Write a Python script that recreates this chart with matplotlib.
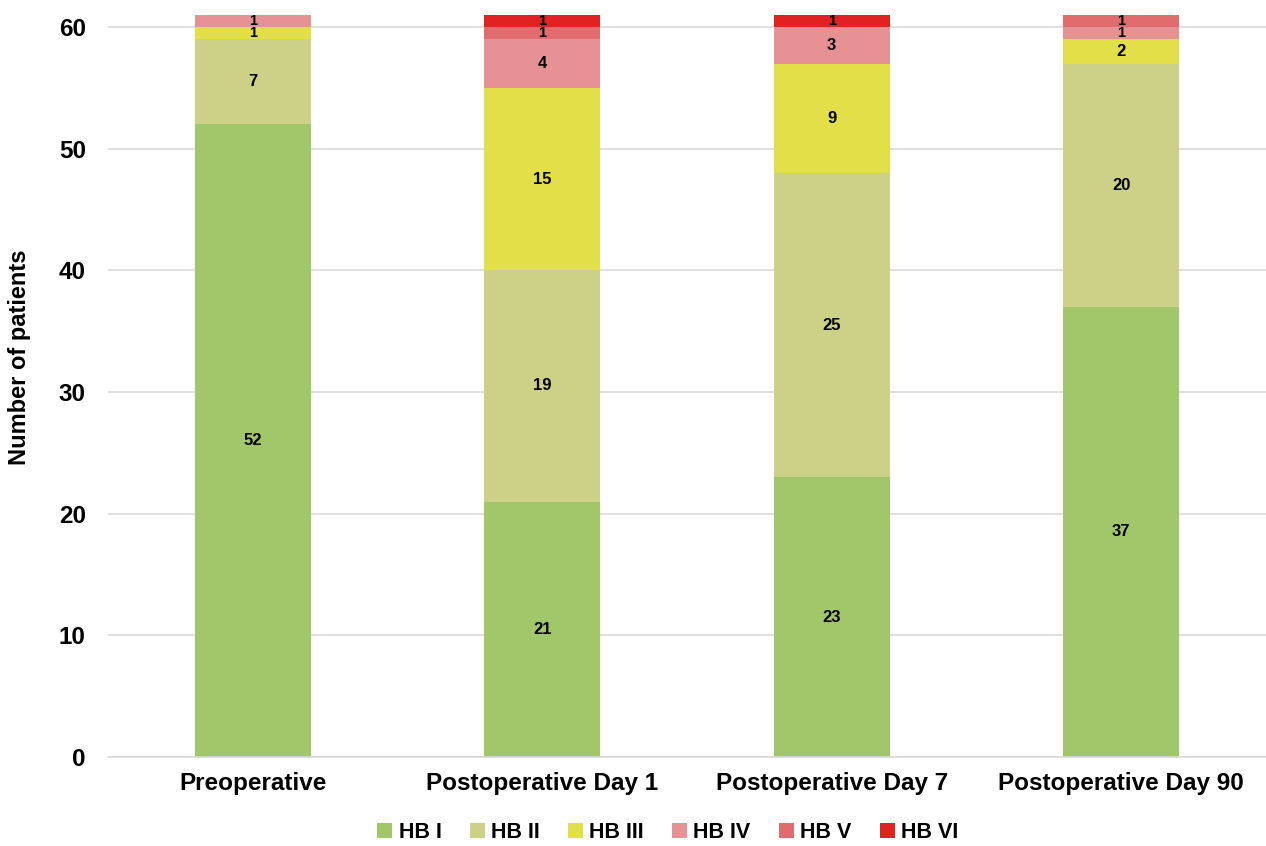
import numpy as np
import matplotlib.pyplot as plt

plt.rcParams['font.family'] = ['Liberation Sans', 'DejaVu Sans']
plt.rcParams['font.weight'] = 'bold'

timepoints = ['Preoperative', 'Postoperative Day 1', 'Postoperative Day 7', 'Postoperative Day 90']
grades = ['HB I', 'HB II', 'HB III', 'HB IV', 'HB V', 'HB VI']
hb1 = [52, 21, 23, 37]
hb2 = [7, 19, 25, 20]
hb3 = [1, 15, 9, 2]
hb4 = [1, 4, 3, 1]
hb5 = [0, 1, 0, 1]
hb6 = [0, 1, 1, 0]
colors = ['#a2c76b', '#cdd188', '#e3df48', '#e69294', '#e06c6d', '#e12222']

counts = np.array([hb1, hb2, hb3, hb4, hb5, hb6])

fig = plt.figure(figsize=(12.66, 8.46), dpi=100)
ax = fig.add_axes([0.0853, 0.1052, 0.9147, 0.8771])

x = np.arange(len(timepoints))
bottom = np.zeros(len(timepoints))
for grade, vals, col in zip(grades, counts, colors):
    ax.bar(x, vals, 0.40, bottom=bottom, color=col, label=grade, zorder=2)
    for xi, v, b in zip(x, vals, bottom):
        if v > 0:
            # single-patient segments are thin, so keep those labels a bit smaller
            fs = 10.5 if v == 1 else 12
            ax.text(xi, b + v / 2, str(v), ha='center', va='center',
                    fontsize=fs, fontweight='bold', color='black', zorder=3)
    bottom += vals

ax.set_xlim(-0.5, 3.5)
ax.set_ylim(0, 61)
ax.set_yticks(range(0, 61, 10))
ax.set_xticks(x)
ax.set_xticklabels(timepoints, fontsize=17.5, fontweight='bold')
ax.tick_params(axis='y', labelsize=17.5, length=0, pad=16)
ax.tick_params(axis='x', length=0, pad=11)
ax.yaxis.grid(True, color='#d9d9d9', linewidth=1.2, zorder=0)
for side in ['top', 'right', 'left']:
    ax.spines[side].set_visible(False)
ax.spines['bottom'].set_color('#d9d9d9')
ax.spines['bottom'].set_linewidth(1.2)
ax.set_ylabel('Number of patients', fontsize=17, fontweight='bold')
ax.yaxis.set_label_coords(-0.0665, 0.539)

ax.legend(loc='lower center', bbox_to_anchor=(0.5 - 0.0853 / 2 / 0.9147 + 0.03, -0.142),
          ncol=6, frameon=False, fontsize=15.5, handlelength=0.7, handleheight=0.7,
          handletextpad=0.3, columnspacing=1.3)

fig.savefig('out.png', dpi=100)
